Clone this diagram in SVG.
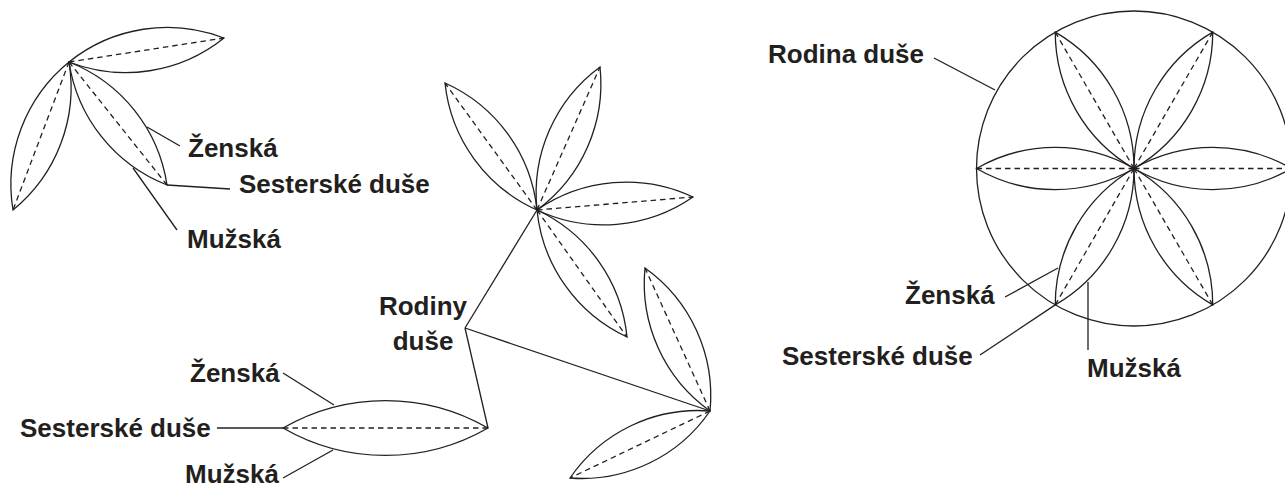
<svg xmlns="http://www.w3.org/2000/svg" width="1285" height="488" viewBox="0 0 1285 488">
<style>
.leaf{fill:none;stroke:#231f20;stroke-width:1.3}
.mid{fill:none;stroke:#231f20;stroke-width:1.3;stroke-dasharray:5.5 4}
.ln{fill:none;stroke:#231f20;stroke-width:1.3}
text{font-family:"Liberation Sans",Arial,sans-serif;font-weight:bold;font-size:26px;fill:#231f20}
</style>
<rect width="1285" height="488" fill="#fff"/>
<g id="group-top-left">
<path class="leaf" d="M69 62 A157 157 0 0 1 224 38 A157 157 0 0 1 69 62 Z"/>
<line class="mid" x1="69" y1="62" x2="224" y2="38"/>
<path class="leaf" d="M69 62 A158 158 0 0 1 13 210 A158 158 0 0 1 69 62 Z"/>
<line class="mid" x1="69" y1="62" x2="13" y2="210"/>
<path class="leaf" d="M69 62 A157 157 0 0 1 167 185 A157 157 0 0 1 69 62 Z"/>
<line class="mid" x1="69" y1="62" x2="167" y2="185"/>
</g>
<g id="flower-middle">
<path class="leaf" d="M537 210 A157 157 0 0 1 445 83 A157 157 0 0 1 537 210 Z"/>
<line class="mid" x1="537" y1="210" x2="445" y2="83"/>
<path class="leaf" d="M537 210 A157 157 0 0 1 600 67 A157 157 0 0 1 537 210 Z"/>
<line class="mid" x1="537" y1="210" x2="600" y2="67"/>
<path class="leaf" d="M537 210 A157 157 0 0 1 693 197 A157 157 0 0 1 537 210 Z"/>
<line class="mid" x1="537" y1="210" x2="693" y2="197"/>
<path class="leaf" d="M537 210 A157 157 0 0 1 627 337 A157 157 0 0 1 537 210 Z"/>
<line class="mid" x1="537" y1="210" x2="627" y2="337"/>
</g>
<g id="flower-bottom-right">
<path class="leaf" d="M710 411 A157 157 0 0 1 645 268 A157 157 0 0 1 710 411 Z"/>
<line class="mid" x1="710" y1="411" x2="645" y2="268"/>
<path class="leaf" d="M710 411 A155 155 0 0 1 570 478 A155 155 0 0 1 710 411 Z"/>
<line class="mid" x1="710" y1="411" x2="570" y2="478"/>
</g>
<g id="lens-bottom-left">
<path class="leaf" d="M283 428 A205 205 0 0 1 488 428 A205 205 0 0 1 283 428 Z"/>
<line class="mid" x1="283" y1="428" x2="488" y2="428"/>
</g>
<g id="family-circle">
<circle class="leaf" cx="1134" cy="168.5" r="157.5"/>
<path class="leaf" d="M1134 168.5 A157.5 157.5 0 0 1 1291.5 168.5 A157.5 157.5 0 0 1 1134 168.5 Z"/>
<path class="leaf" d="M1134 168.5 A157.5 157.5 0 0 1 1212.75 32.1 A157.5 157.5 0 0 1 1134 168.5 Z"/>
<path class="leaf" d="M1134 168.5 A157.5 157.5 0 0 1 1055.25 32.1 A157.5 157.5 0 0 1 1134 168.5 Z"/>
<path class="leaf" d="M1134 168.5 A157.5 157.5 0 0 1 976.5 168.5 A157.5 157.5 0 0 1 1134 168.5 Z"/>
<path class="leaf" d="M1134 168.5 A157.5 157.5 0 0 1 1055.25 304.9 A157.5 157.5 0 0 1 1134 168.5 Z"/>
<path class="leaf" d="M1134 168.5 A157.5 157.5 0 0 1 1212.75 304.9 A157.5 157.5 0 0 1 1134 168.5 Z"/>
<line class="mid" x1="1134" y1="168.5" x2="1291.5" y2="168.5"/>
<line class="mid" x1="1134" y1="168.5" x2="1212.75" y2="32.1"/>
<line class="mid" x1="1134" y1="168.5" x2="1055.25" y2="32.1"/>
<line class="mid" x1="1134" y1="168.5" x2="976.5" y2="168.5"/>
<line class="mid" x1="1134" y1="168.5" x2="1055.25" y2="304.9"/>
<line class="mid" x1="1134" y1="168.5" x2="1212.75" y2="304.9"/>
</g>
<g id="connectors">
<line class="ln" x1="147" y1="127" x2="180" y2="146"/>
<line class="ln" x1="167" y1="185" x2="230" y2="189"/>
<line class="ln" x1="133" y1="168" x2="177" y2="230"/>
<line class="ln" x1="537" y1="210" x2="465" y2="328"/>
<line class="ln" x1="465" y1="328" x2="710" y2="411"/>
<line class="ln" x1="465" y1="328" x2="488" y2="428"/>
<line class="ln" x1="283" y1="373" x2="334" y2="405"/>
<line class="ln" x1="217" y1="428" x2="283" y2="428"/>
<line class="ln" x1="283" y1="478" x2="333" y2="450"/>
<line class="ln" x1="934" y1="58" x2="995" y2="90"/>
<line class="ln" x1="1005" y1="297" x2="1058" y2="268"/>
<line class="ln" x1="980" y1="355" x2="1055.25" y2="304.9"/>
<line class="ln" x1="1088" y1="282" x2="1088" y2="350"/>
</g>
<g id="labels">
<text x="188" y="157">Ženská</text>
<text x="239" y="193">Sesterské duše</text>
<text x="187" y="248">Mužská</text>
<text x="423" y="315" text-anchor="middle">Rodiny</text>
<text x="423" y="350" text-anchor="middle">duše</text>
<text x="190" y="382">Ženská</text>
<text x="20" y="437">Sesterské duše</text>
<text x="185" y="483">Mužská</text>
<text x="768" y="63">Rodina duše</text>
<text x="905" y="304">Ženská</text>
<text x="782" y="365">Sesterské duše</text>
<text x="1087" y="377">Mužská</text>
</g>
</svg>
